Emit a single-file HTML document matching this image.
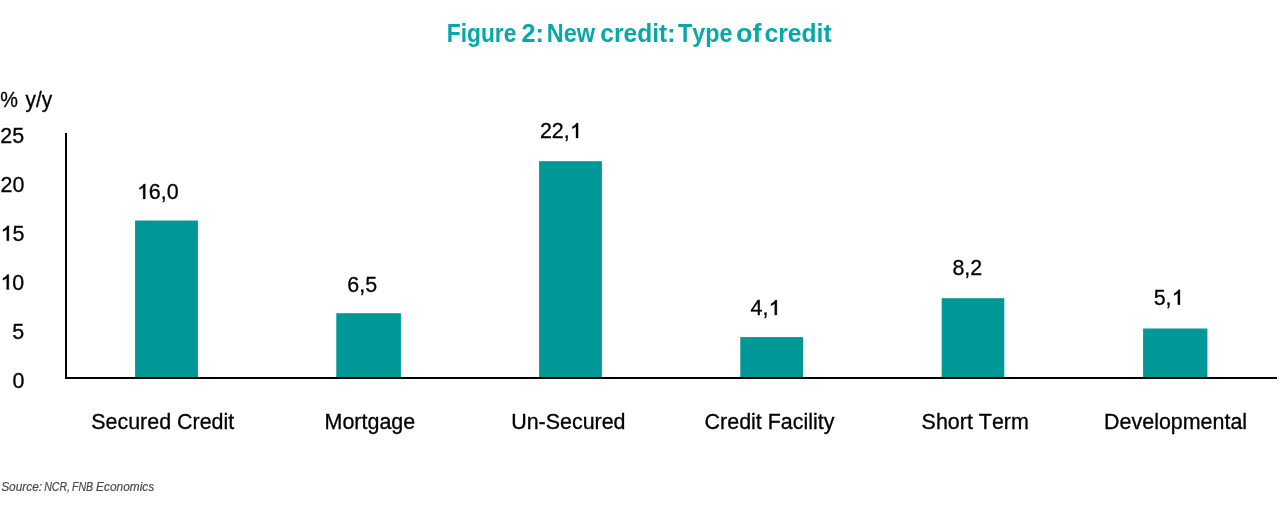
<!DOCTYPE html>
<html><head><meta charset="utf-8"><style>
html,body{margin:0;padding:0;background:#fff;width:1280px;height:520px;overflow:hidden}
svg{display:block;will-change:transform}
text{font-kerning:none;font-feature-settings:"kern" 0}
.lab{font-family:"Liberation Sans",sans-serif;font-size:21.45px;fill:#000;stroke:#000;stroke-width:0.3px}
.one{fill:#000;stroke:#000;stroke-width:0.3px;vector-effect:non-scaling-stroke}
.title{font-family:"Liberation Sans",sans-serif;font-weight:bold;font-size:26.2px;fill:#08a8a8}
.src{font-family:"Liberation Sans",sans-serif;font-style:italic;font-size:13.6px;fill:#484848;stroke:#484848;stroke-width:0.2px}
</style></head><body>
<svg width="1280" height="520" viewBox="0 0 1280 520">
<text id="tw0" x="446.82" y="41.9" class="title" textLength="69.59" lengthAdjust="spacingAndGlyphs">Figure</text>
<text id="tw1" x="521.55" y="41.9" class="title" textLength="22.38" lengthAdjust="spacingAndGlyphs">2:</text>
<text id="tw2" x="546.76" y="41.9" class="title" textLength="48.32" lengthAdjust="spacingAndGlyphs">New</text>
<text id="tw3" x="600.37" y="41.9" class="title" textLength="74.95" lengthAdjust="spacingAndGlyphs">credit:</text>
<text id="tw4" x="678.10" y="41.9" class="title" textLength="54.38" lengthAdjust="spacingAndGlyphs">Type</text>
<text id="tw5" x="735.93" y="41.9" class="title" textLength="25.63" lengthAdjust="spacingAndGlyphs">of</text>
<text id="tw6" x="764.54" y="41.9" class="title" textLength="67.10" lengthAdjust="spacingAndGlyphs">credit</text>
<text id="sw0" x="1.13" y="491.0" class="src" textLength="40.91" lengthAdjust="spacingAndGlyphs">Source:</text>
<text id="sw1" x="44.15" y="491.0" class="src" textLength="25.93" lengthAdjust="spacingAndGlyphs">NCR,</text>
<text id="sw2" x="71.91" y="491.0" class="src" textLength="21.30" lengthAdjust="spacingAndGlyphs">FNB</text>
<text id="sw3" x="96.12" y="491.0" class="src" textLength="58.04" lengthAdjust="spacingAndGlyphs">Economics</text>
<text id="pw0" x="0.30" y="106.9" class="lab" textLength="17.68" lengthAdjust="spacingAndGlyphs">%</text>
<text id="pw1" x="25.53" y="106.9" class="lab" textLength="26.58" lengthAdjust="spacingAndGlyphs">y/y</text>
<rect x="135.1" y="220.5" width="62.80" height="156.50" fill="#009797"/>
<rect x="336.3" y="313.2" width="64.60" height="63.80" fill="#009797"/>
<rect x="539.1" y="161.2" width="62.80" height="215.80" fill="#009797"/>
<rect x="740.3" y="337.1" width="62.75" height="39.90" fill="#009797"/>
<rect x="941.7" y="298.2" width="62.60" height="78.80" fill="#009797"/>
<rect x="1143.1" y="328.5" width="64.30" height="48.50" fill="#009797"/>
<rect x="65" y="133" width="2" height="246" fill="#000"/>
<rect x="65" y="377" width="1212" height="2" fill="#000"/>
<text id="y25" x="0.36" y="142.80" class="lab">25</text>
<text id="y20" x="0.50" y="192.00" class="lab">20</text>
<text id="y15" x="0.50" y="240.75" class="lab"><tspan style="fill:none;stroke:none">1</tspan>5</text>
<path class="one oy15" transform="translate(0.502,240.75) scale(0.010474,-0.010474)" d="M803 0L598 0L598 1105C555 1065 498 1025 428 985C358 945 300 915 243 895L243 1070C341 1115 427 1170 501 1235C575 1300 627 1366 657 1430L803 1430Z"/>
<text id="y10" x="0.42" y="289.50" class="lab"><tspan style="fill:none;stroke:none">1</tspan>0</text>
<path class="one oy10" transform="translate(0.418,289.50) scale(0.010474,-0.010474)" d="M803 0L598 0L598 1105C555 1065 498 1025 428 985C358 945 300 915 243 895L243 1070C341 1115 427 1170 501 1235C575 1300 627 1366 657 1430L803 1430Z"/>
<text id="y5" x="12.28" y="338.80" class="lab">5</text>
<text id="y0" x="12.54" y="387.70" class="lab">0</text>
<text id="v0" x="136.89" y="198.90" class="lab"><tspan style="fill:none;stroke:none">1</tspan>6,0</text>
<path class="one ov0" transform="translate(136.886,198.90) scale(0.010474,-0.010474)" d="M803 0L598 0L598 1105C555 1065 498 1025 428 985C358 945 300 915 243 895L243 1070C341 1115 427 1170 501 1235C575 1300 627 1366 657 1430L803 1430Z"/>
<text id="v1" x="347.33" y="291.70" class="lab">6,5</text>
<text id="v2" x="539.89" y="138.00" class="lab">22,<tspan style="fill:none;stroke:none">1</tspan></text>
<path class="one ov2" transform="translate(569.713,138.00) scale(0.010474,-0.010474)" d="M803 0L598 0L598 1105C555 1065 498 1025 428 985C358 945 300 915 243 895L243 1070C341 1115 427 1170 501 1235C575 1300 627 1366 657 1430L803 1430Z"/>
<text id="v3" x="750.59" y="315.00" class="lab">4,<tspan style="fill:none;stroke:none">1</tspan></text>
<path class="one ov3" transform="translate(768.476,315.00) scale(0.010474,-0.010474)" d="M803 0L598 0L598 1105C555 1065 498 1025 428 985C358 945 300 915 243 895L243 1070C341 1115 427 1170 501 1235C575 1300 627 1366 657 1430L803 1430Z"/>
<text id="v4" x="952.39" y="274.80" class="lab">8,2</text>
<text id="v5" x="1153.66" y="304.80" class="lab">5,<tspan style="fill:none;stroke:none">1</tspan></text>
<path class="one ov5" transform="translate(1171.546,304.80) scale(0.010474,-0.010474)" d="M803 0L598 0L598 1105C555 1065 498 1025 428 985C358 945 300 915 243 895L243 1070C341 1115 427 1170 501 1235C575 1300 627 1366 657 1430L803 1430Z"/>
<text id="x0" x="91.24" y="428.80" class="lab">Secured Credit</text>
<text id="x1" x="324.60" y="428.60" class="lab">Mortgage</text>
<text id="x2" x="511.17" y="429.00" class="lab">Un-Secured</text>
<text id="x3" x="704.61" y="428.75" class="lab">Credit Facility</text>
<text id="x4" x="921.62" y="428.70" class="lab">Short Term</text>
<text id="x5" x="1104.11" y="428.80" class="lab">Developmental</text>
</svg>
</body></html>
